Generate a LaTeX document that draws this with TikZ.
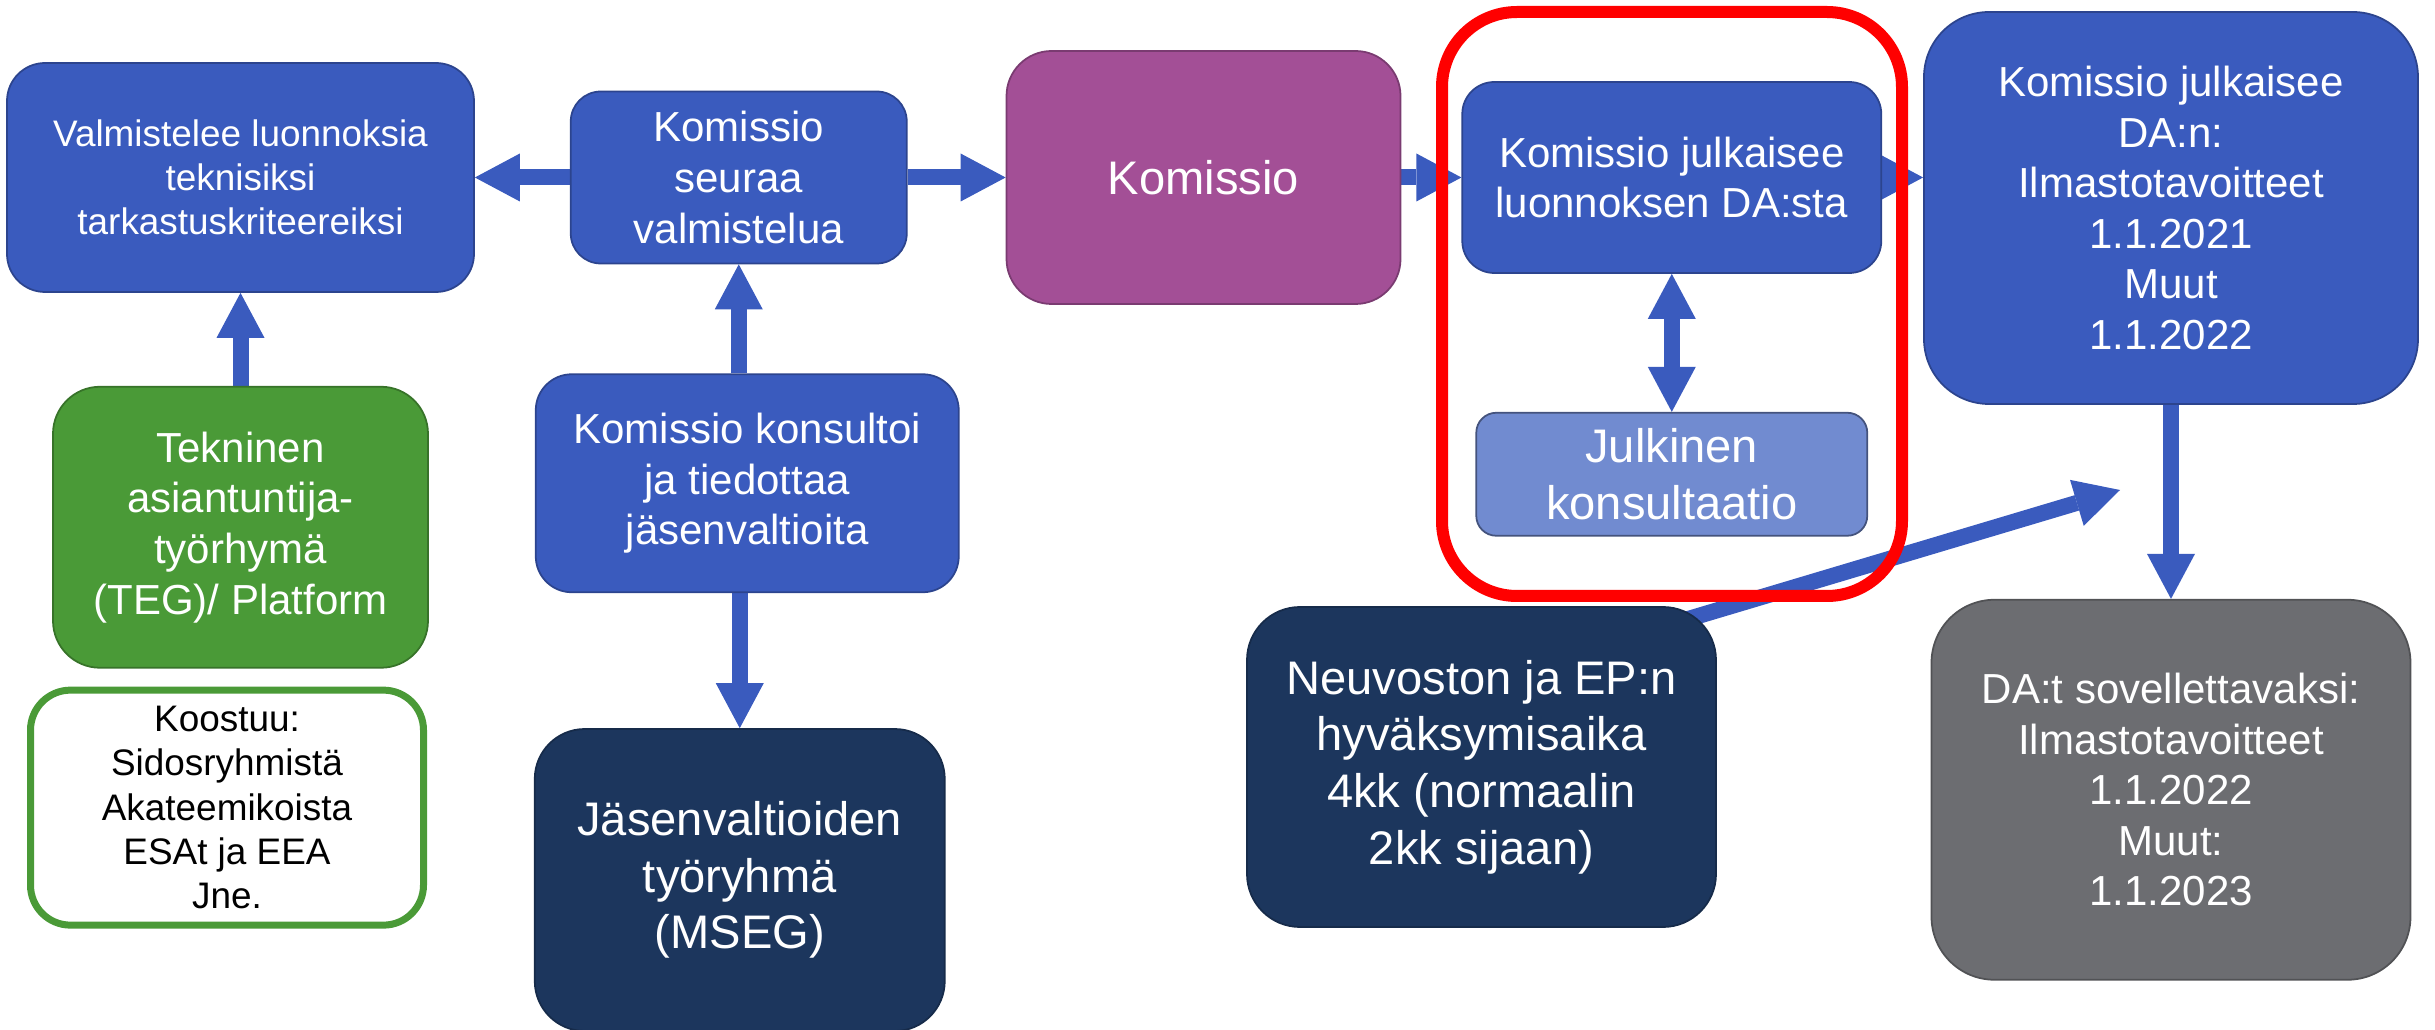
\documentclass[tikz,border=0pt]{standalone}
\usepackage{fontspec}
\setmainfont{Liberation Sans}
\usetikzlibrary{arrows.meta,positioning,backgrounds,calc}

\definecolor{boxblue}{RGB}{58,91,190}
\definecolor{boxpurple}{RGB}{163,79,150}
\definecolor{boxgreen}{RGB}{74,154,55}
\definecolor{boxnavy}{RGB}{28,54,93}
\definecolor{boxgray}{RGB}{108,109,113}
\definecolor{boxlight}{RGB}{113,139,208}

\newcommand{\fsmall}{\fontsize{10.5pt}{12.6pt}\selectfont}
\newcommand{\fmid}{\fontsize{11.95pt}{14.4pt}\selectfont}
\newcommand{\fbig}{\fontsize{13.4pt}{16.1pt}\selectfont}

\begin{document}
\begin{tikzpicture}[node distance=1cm]

  \tikzstyle{bluebox}=[rectangle,draw=boxblue!75!black,line width=0.5pt,fill=boxblue,
  		      text=white,align=center,inner sep=0pt,font=\fmid]
  \tikzstyle{purplebox}=[bluebox,draw=boxpurple!75!black,fill=boxpurple,font=\fbig]
  \tikzstyle{lightbox}=[bluebox,draw=boxlight!60!black,fill=boxlight,font=\fbig]
  \tikzstyle{navybox}=[bluebox,draw=boxnavy!80!black,fill=boxnavy,font=\fbig]
  \tikzstyle{graybox}=[bluebox,draw=boxgray!75!black,fill=boxgray]
  \tikzstyle{greenbox}=[bluebox,draw=boxgreen!75!black,fill=boxgreen]
  \tikzstyle{notebox}=[bluebox,draw=boxgreen,line width=0.7mm,fill=white,
  		      text=black,font=\fsmall]
  \tikzstyle{flow}=[draw=boxblue,line width=1.6mm,
  		   -{Triangle[length=4.5mm,width=4.8mm,line width=0pt]}]
  \tikzstyle{twoway}=[flow,{Triangle[length=4.5mm,width=4.8mm,line width=0pt]}-{Triangle[length=4.5mm,width=4.8mm,line width=0pt]}]
  \tikzstyle{redframe}=[draw=red,line width=1.2mm,rounded corners=7.5mm]

  \useasboundingbox (0,0) rectangle (24.35,10.30);

  % top row
  \node [bluebox,minimum width=4.67cm,minimum height=2.29cm,rounded corners=3.8mm,
         font=\fsmall] (valm) at (2.405,8.525)
        {Valmistelee luonnoksia\\teknisiksi\\tarkastuskriteereiksi};
  \node [bluebox,minimum width=3.36cm,minimum height=1.72cm,rounded corners=3mm,
         right=0.95cm of valm] (seur) {Komissio\\seuraa\\valmistelua};
  \node [purplebox,minimum width=3.94cm,minimum height=2.53cm,rounded corners=4.5mm,
         right=0.98cm of seur] (kom) {Komissio};
  \node [bluebox,minimum width=4.19cm,minimum height=1.91cm,rounded corners=3.2mm,
         right=0.60cm of kom] (luon) {Komissio julkaisee\\luonnoksen DA:sta};
  \node [lightbox,minimum width=3.91cm,minimum height=1.23cm,rounded corners=2mm,
         below=1.38cm of luon] (julk) {Julkinen\\konsultaatio};
  \node [bluebox,minimum width=4.94cm,minimum height=3.92cm,rounded corners=6.5mm]
        (dan) at (21.71,8.22)
        {Komissio julkaisee\\DA:n:\\Ilmastotavoitteet\\1.1.2021\\Muut\\1.1.2022};
  \node [graybox,minimum width=4.79cm,minimum height=3.80cm,rounded corners=6.3mm,
         below=1.94cm of dan] (dat)
        {DA:t sovellettavaksi:\\Ilmastotavoitteet\\1.1.2022\\Muut:\\1.1.2023};
  \node [navybox,minimum width=4.69cm,minimum height=3.20cm,rounded corners=5.3mm]
        (neuv) at (14.815,2.63)
        {Neuvoston ja EP:n\\hyväksymisaika\\4kk (normaalin\\2kk sijaan)};
  \coordinate (neuvtip) at (21.20,5.40);

  % left columns
  \node [greenbox,minimum width=3.75cm,minimum height=2.81cm,rounded corners=4.7mm,
         below=0.93cm of valm] (teg)
        {Tekninen\\asiantuntija-\\työrhymä\\(TEG)/ Platform};
  \node [notebox,minimum width=3.93cm,minimum height=2.35cm,rounded corners=4mm,
         below=0.18cm of teg,xshift=-1.35mm] (koos)
        {Koostuu:\\Sidosryhmistä\\Akateemikoista\\ESAt ja EEA\\Jne.};
  \node [bluebox,minimum width=4.23cm,minimum height=2.18cm,rounded corners=3.6mm,
         below=1.09cm of seur,xshift=0.85mm] (kons)
        {Komissio konsultoi\\ja tiedottaa\\jäsenvaltioita};
  \node [navybox,minimum width=4.10cm,minimum height=3.02cm,rounded corners=5mm,
         below=1.35cm of kons,xshift=-0.75mm] (mseg)
        {Jäsenvaltioiden\\työryhmä\\(MSEG)};

  \begin{pgfonlayer}{background}
    \path
    (seur.west) edge [flow] (valm.east)
    (seur.east) edge [flow] (kom.west)
    (kom.east)  edge [flow] (luon.west)
    (luon.east) edge [flow] (luon.east -| dan.west)
    (luon.south) edge [twoway] (luon.south |- julk.north)
    (dan.south) edge [flow] (dat.north)

    (teg.north) edge [flow] (teg.north |- valm.south)
    (kons.north -| seur.south) edge [flow] (seur.south)
    (kons.south -| mseg.north) edge [flow] (mseg.north)

    ($(neuv.north east)+(-0.56,-0.21)$) edge [flow] (neuvtip);
  \end{pgfonlayer}

  \draw [redframe] (14.42,10.18) rectangle (19.02,4.34);

\end{tikzpicture}
\end{document}
